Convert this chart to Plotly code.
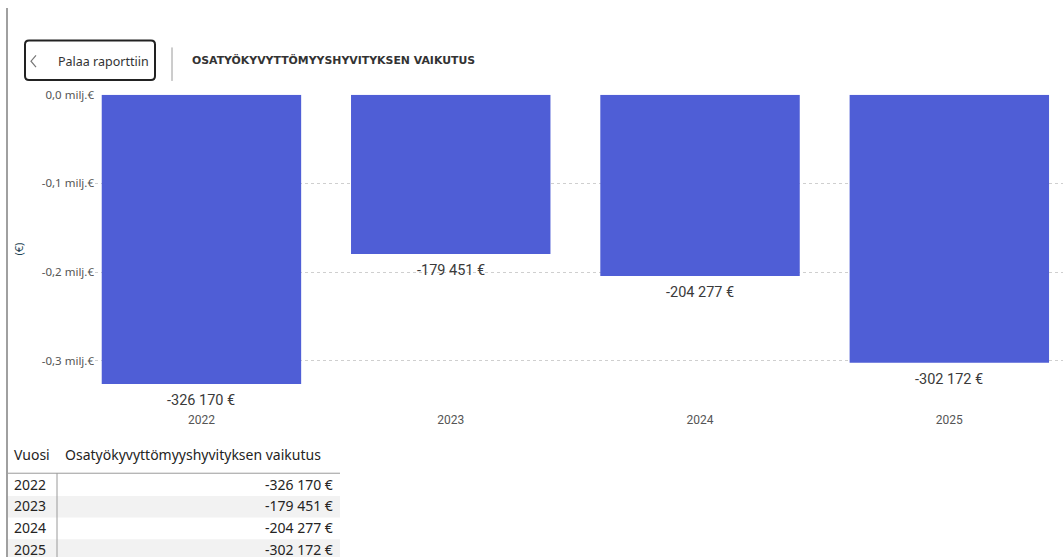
import plotly.graph_objects as go

# Osatyökyvyttömyyshyvityksen vaikutus vuosittain
years = ["2022", "2023", "2024", "2025"]
impact = [-326170, -179451, -204277, -302172]
y_ticks = [0, -100000, -200000, -300000]
y_tick_labels = ["0,0 milj.€", "-0,1 milj.€", "-0,2 milj.€", "-0,3 milj.€"]

W, H = 1063, 557
BAR_COLOR = "#4F5ED6"


def px(x):
    return x / W


def py(y):
    return 1 - y / H


def eur(v):
    return f"{v:,}".replace(",", " ") + " €"


def label(x, y, text, font, xanchor="left", **kw):
    return dict(x=px(x), y=py(y), xref="paper", yref="paper", text=text, showarrow=False,
                xanchor=xanchor, yanchor="middle", font=font, **kw)


fig = go.Figure(go.Bar(x=years, y=impact, width=0.8, marker_color=BAR_COLOR,
                       marker_line_width=0, hoverinfo="skip"))

annotations = []
shapes = []

# data labels under the bars (x as category index, "2022" would be read as a number)
for i, v in enumerate(impact):
    annotations.append(dict(x=i, y=v, xref="x", yref="y", text=eur(v), showarrow=False,
                            xanchor="center", yanchor="top", yshift=-6,
                            font=dict(family="Roboto", size=14.5, color="#3a3a3a")))

# y axis title
annotations.append(label(18, 245, "(€)", dict(family="Noto Sans", size=11, color="#1f4655"),
                         xanchor="center", textangle=-90))


# header: back button, separator, title
def rounded_rect(x0, y0, x1, y1, r):
    return (f"M {px(x0 + r)},{py(y0)} L {px(x1 - r)},{py(y0)} Q {px(x1)},{py(y0)} {px(x1)},{py(y0 + r)} "
            f"L {px(x1)},{py(y1 - r)} Q {px(x1)},{py(y1)} {px(x1 - r)},{py(y1)} "
            f"L {px(x0 + r)},{py(y1)} Q {px(x0)},{py(y1)} {px(x0)},{py(y1 - r)} "
            f"L {px(x0)},{py(y0 + r)} Q {px(x0)},{py(y0)} {px(x0 + r)},{py(y0)} Z")


shapes.append(dict(type="path", xref="paper", yref="paper", path=rounded_rect(25, 33, 155, 73, 4),
                   line=dict(color="#222222", width=2)))
shapes.append(dict(type="path", xref="paper", yref="paper",
                   path=f"M {px(36)},{py(48)} L {px(31)},{py(54)} L {px(36)},{py(60)}",
                   line=dict(color="#777777", width=1.2)))
annotations.append(label(56, 54, "Palaa raporttiin", dict(family="Noto Sans", size=12.5, color="#333333")))
shapes.append(dict(type="line", xref="paper", yref="paper", x0=px(172), x1=px(172), y0=py(40), y1=py(74),
                   line=dict(color="#9a9a9a", width=1)))
annotations.append(label(190, 53, "<b>OSATYÖKYVYTTÖMYYSHYVITYKSEN VAIKUTUS</b>",
                         dict(family="DejaVu Sans", size=10.9, color="#333333")))

# left frame line
shapes.append(dict(type="line", xref="paper", yref="paper", x0=px(7), x1=px(7), y0=0, y1=1,
                   line=dict(color="#a0a0a0", width=2)))

# table below the chart
row_top = 473
row_h = 22
tfont = dict(family="Noto Sans", size=14, color="#252423")
annotations.append(label(12, 453, "Vuosi", tfont))
annotations.append(label(63, 453, "Osatyökyvyttömyyshyvityksen vaikutus", tfont))
for i, (yr, v) in enumerate(zip(years, impact)):
    y0 = row_top + i * row_h
    if i % 2 == 1:
        shapes.append(dict(type="rect", xref="paper", yref="paper", x0=px(8), x1=px(340),
                           y0=py(y0), y1=py(y0 + row_h), fillcolor="#f2f2f2", line_width=0, layer="below"))
    annotations.append(label(12, y0 + row_h / 2 - 1, yr, tfont))
    annotations.append(label(335, y0 + row_h / 2 - 1, eur(v), tfont, xanchor="right"))
shapes.append(dict(type="line", xref="paper", yref="paper", x0=px(8), x1=px(340), y0=py(472), y1=py(472),
                   line=dict(color="#9a9a9a", width=1)))
shapes.append(dict(type="line", xref="paper", yref="paper", x0=px(57), x1=px(57), y0=py(472), y1=0,
                   line=dict(color="#9a9a9a", width=1)))

fig.update_layout(
    width=W, height=H,
    margin=dict(l=0, r=0, t=0, b=0),
    paper_bgcolor="white", plot_bgcolor="white",
    showlegend=False,
    xaxis=dict(domain=[px(95), 1], range=[-0.427, 3.456], type="category", showgrid=False,
               showline=False, zeroline=False, ticks="", ticklabelstandoff=6,
               tickfont=dict(family="Roboto", size=12, color="#555555")),
    yaxis=dict(domain=[py(403), py(88)], range=[-350000, 0], tickvals=y_ticks, ticktext=y_tick_labels,
               showgrid=True, gridcolor="#cfcfcf", griddash="dot", gridwidth=1, zeroline=False,
               showline=False, ticks="", tickfont=dict(family="Noto Sans", size=11.5, color="#555555")),
    annotations=annotations,
    shapes=shapes,
)

fig.write_html("out.html", config={"displayModeBar": False},
               post_script="document.body.style.margin='0';document.body.style.overflow='hidden';")
